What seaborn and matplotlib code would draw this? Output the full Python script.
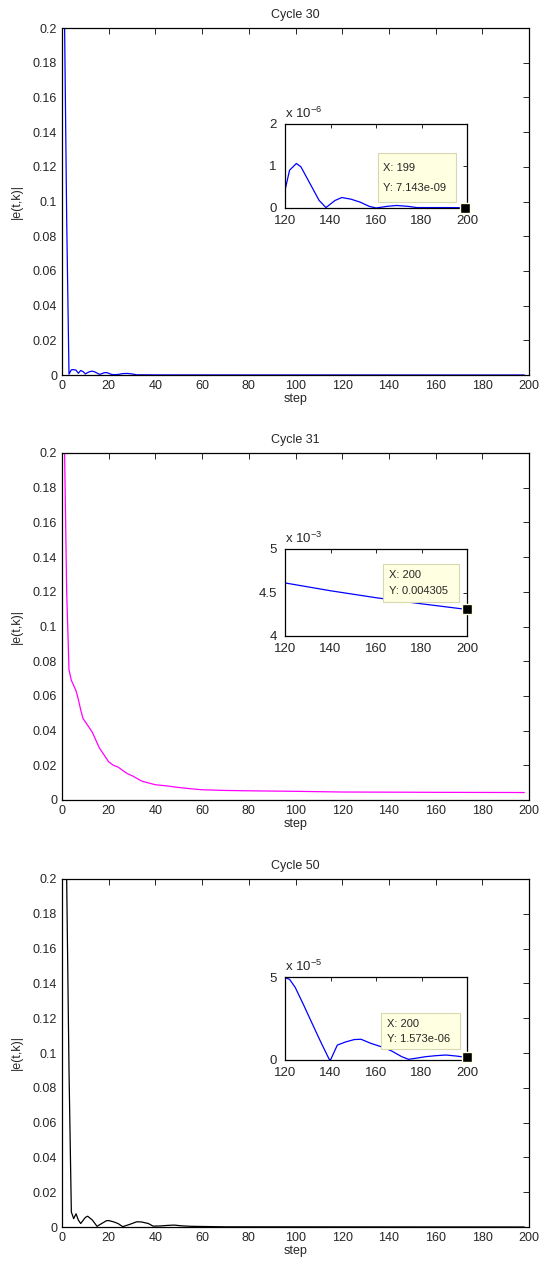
import numpy as np
import pandas as pd
import matplotlib
matplotlib.use("Agg")
import matplotlib.pyplot as plt
import seaborn as sns
from matplotlib.patches import Rectangle

# ---------------- data ----------------
titles = ["Cycle 30", "Cycle 31", "Cycle 50"]
colors = ["#0000FF", "#FF00FF", "#000000"]

c30_steps = [1, 2, 3, 4, 5, 6, 7, 8, 9, 10, 11, 12, 13, 14, 15, 16, 17, 18, 19, 20,
             21, 22, 24, 26, 28, 30, 32, 35, 40, 198]
c30_vals = [0.215, 0.09, 0.0005, 0.0030, 0.0031, 0.0028, 0.0010, 0.0026, 0.0020, 0.0006,
            0.0014, 0.0020, 0.0022, 0.0018, 0.0011, 0.0004, 0.0007, 0.0013, 0.0014, 0.0010,
            0.0004, 0.0002, 0.0003, 0.0008, 0.0009, 0.0006, 0.0001, 0.0001, 0.00005, 0.0]

c31_steps = [1, 2, 3, 4, 5, 6, 7, 8, 9, 10, 11, 12, 13, 14, 15, 16, 17, 18, 19, 20,
             22, 24, 26, 28, 30, 32, 34, 36, 38, 40, 45, 50, 55, 60, 70, 80, 100, 120,
             140, 160, 180, 198]
c31_vals = [0.21, 0.12, 0.075, 0.069, 0.066, 0.063, 0.058, 0.052, 0.047, 0.045,
            0.043, 0.041, 0.039, 0.036, 0.033, 0.030, 0.028, 0.026, 0.024, 0.022,
            0.020, 0.019, 0.017, 0.0152, 0.014, 0.0125, 0.011, 0.0102, 0.0095, 0.0088,
            0.0081, 0.0072, 0.0065, 0.0059, 0.0055, 0.0053, 0.0050, 0.0046,
            0.00452, 0.00442, 0.00436, 0.00431]

c50_steps = [1, 2, 3, 4, 5, 6, 7, 8, 10, 11, 13, 15, 17, 19, 20, 22, 24, 26, 29, 32,
             34, 37, 39, 42, 45, 48, 51, 55, 60, 70, 198]
c50_vals = [0.2, 0.2, 0.09, 0.0086, 0.0048, 0.0076, 0.0040, 0.0020, 0.0055, 0.0062,
            0.0040, 0.0004, 0.0020, 0.0036, 0.0037, 0.0030, 0.0020, 0.0002, 0.0015, 0.0030,
            0.0029, 0.0020, 0.0005, 0.0006, 0.0009, 0.0011, 0.0007, 0.0004, 0.0003, 0.0001, 0.0]

# inset data (values in units of the inset multiplier)
ins_steps = [120, 122, 125, 127, 131, 135, 138, 142, 145, 149, 153, 157, 160, 165, 169,
             174, 178, 182, 186, 190, 195, 199]
ins30_vals = [0.42, 0.90, 1.06, 0.98, 0.58, 0.18, 0.01, 0.18, 0.25, 0.21, 0.14, 0.04,
              0.00, 0.04, 0.06, 0.04, 0.01, 0.01, 0.01, 0.01, 0.008, 0.007]
ins31_steps = [120, 140, 160, 180, 200]
ins31_vals = [4.61, 4.52, 4.44, 4.37, 4.305]
ins50_steps = [120, 122, 124.5, 128, 132, 135.7, 139.4, 140, 143, 146.7, 150.4, 153.4,
               157.8, 162.3, 166.8, 171.3, 174.3, 177.3, 181.8, 186.3, 190.7, 195.2, 200]
ins50_vals = [4.96, 4.86, 4.37, 3.37, 2.18, 1.09, 0.05, 0.0, 0.9, 1.09, 1.23, 1.25,
              1.0, 0.8, 0.55, 0.2, 0.04, 0.1, 0.2, 0.26, 0.3, 0.24, 0.157]

inset_colors = ["#0000FF", "#0000FF", "#0000FF"]
inset_mult = ["-6", "-3", "-5"]
inset_ylim = [(0, 2), (4, 5), (0, 5)]
inset_yticks = [[0, 1, 2], [4, 4.5, 5], [0, 5]]
inset_yticklabels = [["0", "1", "2"], ["4", "4.5", "5"], ["0", "5"]]
tip_x = [199, 200, 200]
tip_y = [0.007143, 4.305, 0.1573]
tip_text = [("X: 199", "Y: 7.143e-09"), ("X: 200", "Y: 0.004305"), ("X: 200", "Y: 1.573e-06")]
tip_box = [(0.51, 0.07, 0.94, 0.655), (0.54, 0.39, 0.956, 0.83), (0.53, 0.13, 0.96, 0.57)]

x_ticks = list(range(0, 201, 20))
y_ticks = [0, 0.02, 0.04, 0.06, 0.08, 0.1, 0.12, 0.14, 0.16, 0.18, 0.2]
y_ticklabels = ["0", "0.02", "0.04", "0.06", "0.08", "0.1", "0.12", "0.14", "0.16", "0.18", "0.2"]
ins_xticks = [120, 140, 160, 180, 200]

# ---------------- style ----------------
sns.set_style("white")
plt.rcParams["font.family"] = ["Liberation Sans", "DejaVu Sans"]
plt.rcParams["mathtext.fontset"] = "custom"
plt.rcParams["mathtext.rm"] = "Liberation Sans"
plt.rcParams["mathtext.it"] = "Liberation Sans"
plt.rcParams["axes.edgecolor"] = "black"
plt.rcParams["axes.linewidth"] = 0.9

W, H = 542, 1265
fig = plt.figure(figsize=(W / 100, H / 100), dpi=100)

main_pos = [(62, 28, 529, 375), (62, 453, 529, 800), (62, 879, 529, 1227)]
inset_pos = [(285, 124, 467, 208), (285, 549, 467, 636), (285, 977, 467, 1060)]


def frac(box):
    l, t, r, b = box
    return [l / W, 1 - b / H, (r - l) / W, (b - t) / H]


main_data = [(c30_steps, c30_vals), (c31_steps, c31_vals), (c50_steps, c50_vals)]
inset_data = [(ins_steps, ins30_vals), (ins31_steps, ins31_vals), (ins50_steps, ins50_vals)]

FS = 9.0
IFS = 9.5

for i in range(3):
    ax = fig.add_axes(frac(main_pos[i]))
    df = pd.DataFrame({"step": main_data[i][0], "err": main_data[i][1]})
    sns.lineplot(data=df, x="step", y="err", ax=ax, color=colors[i], linewidth=0.9,
                 errorbar=None, sort=False)
    ax.set_xlim(0, 200)
    ax.set_ylim(0, 0.2)
    ax.set_xticks(x_ticks)
    ax.set_xticklabels([str(t) for t in x_ticks])
    ax.set_yticks(y_ticks)
    ax.set_yticklabels(y_ticklabels)
    ax.tick_params(direction="in", length=4, width=0.7, labelsize=FS, top=True, right=True,
                   pad=3.5)
    ax.set_xlabel("step", fontsize=FS, labelpad=1)
    ax.set_ylabel("|e(t,k)|", fontsize=FS, labelpad=7)
    ax.set_title(titles[i], fontsize=FS, pad=7)
    for s in ax.spines.values():
        s.set_visible(True)
        s.set_color("black")

    # inset
    ia = fig.add_axes(frac(inset_pos[i]))
    idf = pd.DataFrame({"step": inset_data[i][0], "err": inset_data[i][1]})
    sns.lineplot(data=idf, x="step", y="err", ax=ia, color=inset_colors[i], linewidth=0.9,
                 errorbar=None, sort=False)
    ia.set_xlim(120, 200)
    ia.set_ylim(*inset_ylim[i])
    ia.set_xticks(ins_xticks)
    ia.set_xticklabels([str(t) for t in ins_xticks])
    ia.set_yticks(inset_yticks[i])
    ia.set_yticklabels(inset_yticklabels[i])
    ia.tick_params(axis="x", pad=5)
    ia.tick_params(axis="y", pad=6)
    ia.tick_params(direction="in", length=3, width=0.7, labelsize=IFS, top=True,
                   right=True)
    ia.set_xlabel("")
    ia.set_ylabel("")
    for s in ia.spines.values():
        s.set_visible(True)
        s.set_color("black")
    ia.text(0.0, 1.04, r"x 10$^{" + inset_mult[i] + "}$", transform=ia.transAxes,
            fontsize=IFS, ha="left", va="bottom")

    # data tip box
    x0, y0, x1, y1 = tip_box[i]
    ia.add_patch(Rectangle((x0, y0), x1 - x0, y1 - y0, transform=ia.transAxes,
                           facecolor="#FFFFE1", edgecolor="#D8D8B0", linewidth=0.8,
                           zorder=5, clip_on=False))
    ia.text(x0 + 0.03, y0 + (y1 - y0) * 0.70, tip_text[i][0], transform=ia.transAxes,
            fontsize=8.0, ha="left", va="center", zorder=6)
    ia.text(x0 + 0.03, y0 + (y1 - y0) * 0.28, tip_text[i][1], transform=ia.transAxes,
            fontsize=8.0, ha="left", va="center", zorder=6)
    ia.plot([tip_x[i]], [tip_y[i]], marker="s", markersize=7, markerfacecolor="black",
            markeredgecolor="#FFFFE1", markeredgewidth=1.0, linestyle="none",
            clip_on=False, zorder=7)

fig.savefig("out.png", dpi=100)
